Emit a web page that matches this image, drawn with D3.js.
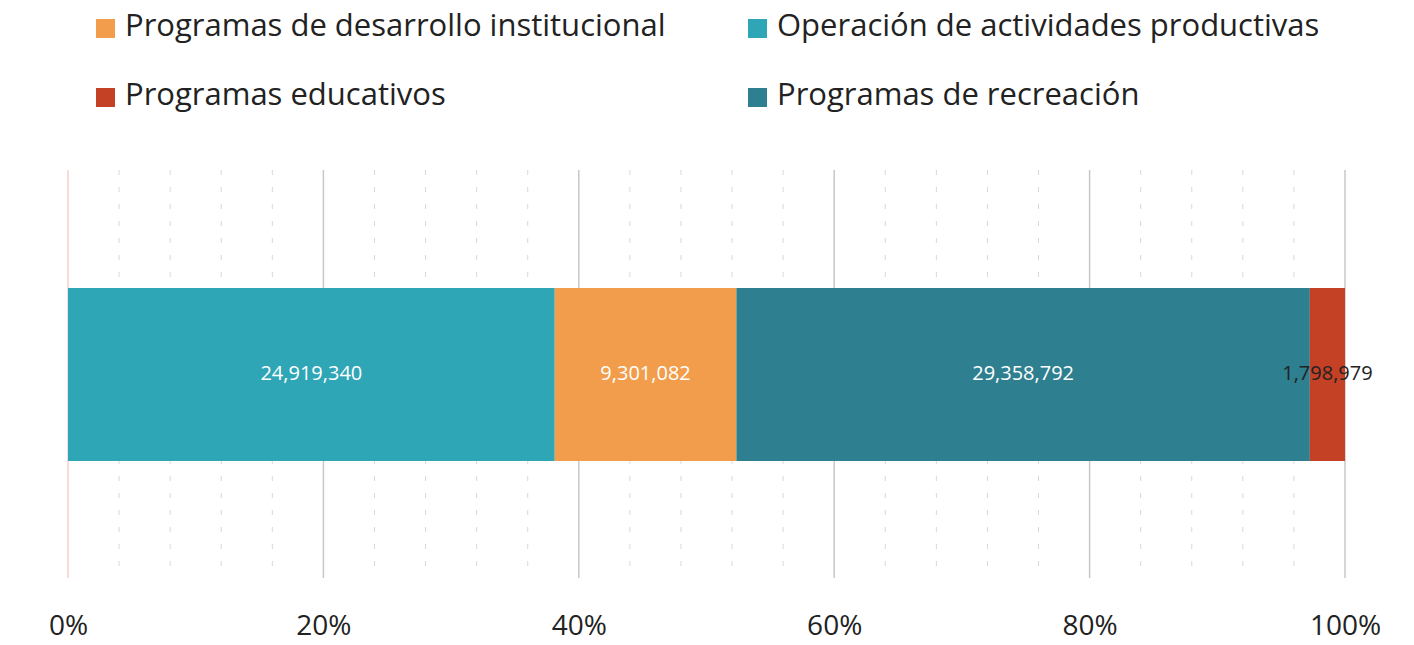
<!DOCTYPE html>
<html>
<head>
<meta charset="utf-8">
<script src="https://cdn.jsdelivr.net/npm/d3@7"></script>
<style>
body { margin: 0; background: #fff; }
svg { display: block; font-family: 'Open Sans', sans-serif; }
</style>
</head>
<body>
<svg id="chart" width="1414" height="645"></svg>
<script>
var categories = ['Operación de actividades productivas', 'Programas de desarrollo institucional', 'Programas de recreación', 'Programas educativos'];
var values = [24919340, 9301082, 29358792, 1798979];
var colours = ['#2ea6b6', '#f29d4b', '#2e7f8f', '#c44125'];
var labelColours = ['#ffffff', '#ffffff', '#ffffff', '#222222'];
var legendOrder = ['Programas de desarrollo institucional', 'Operación de actividades productivas', 'Programas educativos', 'Programas de recreación'];
var majorTicks = [0, 0.2, 0.4, 0.6, 0.8, 1];

var svg = d3.select('#chart');
var plotLeft = 68, plotRight = 1345, plotTop = 170, plotBottom = 578;

var x = d3.scaleLinear().domain([0, 1]).range([plotLeft, plotRight]);

var total = d3.sum(values);
var acc = 0;
var segs = values.map(function(v, i) {
	var s = {name: categories[i], value: v, x0: acc / total, x1: (acc + v) / total, colour: colours[i], label: labelColours[i]};
	acc += v;
	return s;
});

// minor dashed grid, every 4%
var minor = d3.range(0, 26).map(d => d * 0.04).filter(d => Math.abs((d * 100) % 20) > 0.01 && Math.abs((d * 100) % 20 - 20) > 0.01);
svg.append('g').selectAll('line').data(minor).enter().append('line')
	.attr('x1', d => x(d)).attr('x2', d => x(d))
	.attr('y1', plotTop).attr('y2', plotBottom)
	.attr('stroke', '#d8d8d8').attr('stroke-width', 1)
	.attr('stroke-dasharray', '5,12');

svg.append('g').selectAll('line').data(majorTicks).enter().append('line')
	.attr('x1', d => x(d)).attr('x2', d => x(d))
	.attr('y1', plotTop).attr('y2', plotBottom)
	.attr('stroke', d => d === 0 ? '#f0b8b8' : '#c8c8c8')
	.attr('stroke-width', d => d === 0 ? 1 : 1.5);

svg.append('g').selectAll('rect').data(segs).enter().append('rect')
	.attr('x', d => x(d.x0)).attr('width', d => x(d.x1) - x(d.x0))
	.attr('y', 288).attr('height', 173)
	.attr('fill', d => d.colour);

var fmt = d3.format(',');
svg.append('g').selectAll('text').data(segs).enter().append('text')
	.attr('x', d => (x(d.x0) + x(d.x1)) / 2)
	.attr('y', 375)
	.attr('text-anchor', 'middle').attr('dominant-baseline', 'middle')
	.attr('font-size', 20).attr('fill', d => d.label)
	.text(d => fmt(d.value));

var axis = d3.axisBottom(x).tickValues(majorTicks).tickFormat(d3.format('.0%')).tickSize(0);
var ax = svg.append('g').attr('transform', 'translate(0,' + 612 + ')').call(axis);
ax.select('.domain').remove();
ax.selectAll('text').attr('font-size', 28).attr('fill', '#222').attr('font-family', "'Open Sans', sans-serif");

var legendPos = [[96, 28], [748, 28], [96, 97], [748, 97]];
var lg = svg.append('g').selectAll('g').data(legendOrder).enter().append('g')
	.attr('transform', (d, i) => 'translate(' + legendPos[i][0] + ',' + legendPos[i][1] + ')');
lg.append('rect').attr('x', 0).attr('y', -9).attr('width', 19).attr('height', 19)
	.attr('fill', d => colours[categories.indexOf(d)]);
lg.append('text').attr('x', 29).attr('y', 0).attr('dominant-baseline', 'middle')
	.attr('font-size', 31).attr('fill', '#222').text(d => d);
</script>
</body>
</html>
